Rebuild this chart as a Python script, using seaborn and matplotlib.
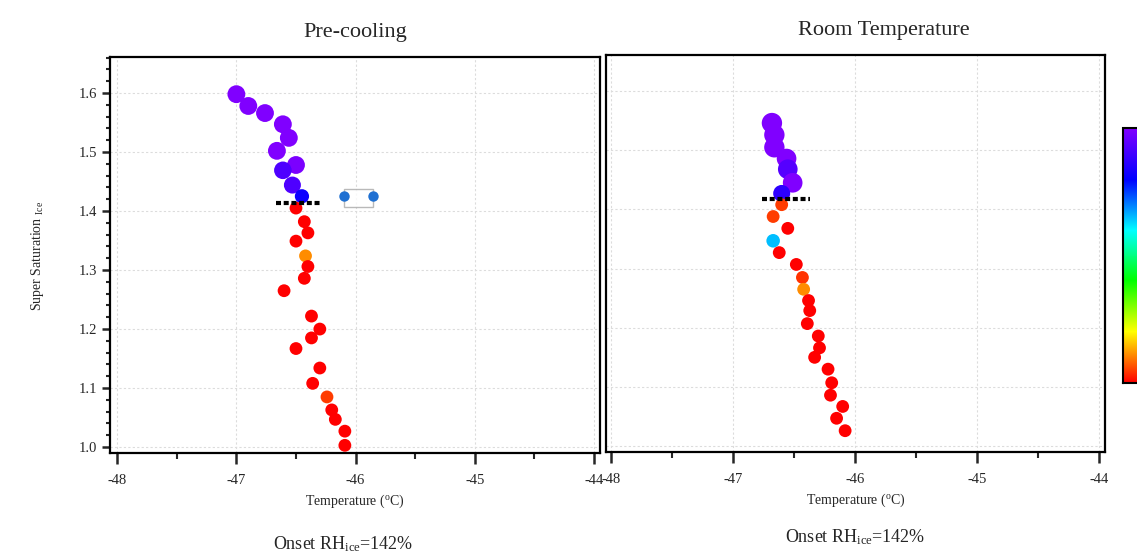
import numpy as np
import pandas as pd
import matplotlib
matplotlib.use("Agg")
import matplotlib.pyplot as plt
import seaborn as sns
from matplotlib.colors import LinearSegmentedColormap
from matplotlib.lines import Line2D
from matplotlib.legend_handler import HandlerLine2D
from matplotlib.ticker import MultipleLocator
import matplotlib.cm as cm

# ---------------- data ----------------
pre_temp = [-47.00, -46.90, -46.76, -46.61, -46.56, -46.66, -46.50, -46.61, -46.53, -46.45,
            -46.50, -46.43, -46.40, -46.50, -46.42, -46.40, -46.43, -46.60, -46.37, -46.30,
            -46.37, -46.50, -46.30, -46.36, -46.24, -46.20, -46.17, -46.09, -46.09]
pre_ss = [1.598, 1.578, 1.566, 1.547, 1.524, 1.502, 1.478, 1.469, 1.444, 1.425,
          1.405, 1.382, 1.363, 1.349, 1.324, 1.306, 1.286, 1.265, 1.222, 1.200,
          1.185, 1.167, 1.134, 1.108, 1.085, 1.063, 1.047, 1.027, 1.003]
pre_color = [1.0, 1.0, 1.0, 1.0, 1.0, 1.0, 0.99, 0.92, 0.92, 0.82,
             0.0, 0.0, 0.0, 0.0, 0.11, 0.0, 0.0, 0.0, 0.0, 0.0,
             0.0, 0.0, 0.0, 0.0, 0.05, 0.0, 0.0, 0.0, 0.0]
pre_size = [165, 165, 165, 165, 165, 165, 165, 160, 150, 105,
            85, 85, 85, 85, 85, 85, 85, 85, 85, 85,
            85, 85, 85, 85, 85, 85, 85, 85, 85]

rt_temp = [-46.68, -46.66, -46.66, -46.56, -46.55, -46.51, -46.60,
           -46.60, -46.67, -46.55, -46.67, -46.62, -46.48, -46.43, -46.42,
           -46.38, -46.37, -46.39, -46.30, -46.29, -46.33, -46.22, -46.19,
           -46.20, -46.10, -46.15, -46.08]
rt_ss = [1.546, 1.526, 1.505, 1.486, 1.468, 1.445, 1.427,
         1.408, 1.388, 1.368, 1.347, 1.327, 1.307, 1.285, 1.265,
         1.246, 1.229, 1.207, 1.186, 1.166, 1.150, 1.130, 1.107,
         1.086, 1.067, 1.047, 1.026]
rt_color = [1.0, 1.0, 1.0, 1.0, 0.93, 1.0, 0.87,
            0.05, 0.05, 0.0, 0.65, 0.0, 0.0, 0.04, 0.11,
            0.0, 0.0, 0.0, 0.0, 0.0, 0.0, 0.0, 0.0,
            0.0, 0.0, 0.0, 0.0]
rt_size = [215, 215, 215, 200, 200, 200, 150,
           85, 85, 85, 95, 85, 85, 85, 85,
           85, 85, 85, 85, 85, 85, 85, 85,
           85, 85, 85, 85]

onset_pre_ss = 1.414
onset_pre_x = [-46.67, -46.29]
onset_rt_ss = 1.417
onset_rt_x = [-46.76, -46.37]

titles = ["Pre-cooling", "Room Temperature"]
onset_text = "Onset RH$_{\\mathrm{ice}}$=142%"
x_ticks = [-48, -47, -46, -45, -44]
y_ticks = [1.0, 1.1, 1.2, 1.3, 1.4, 1.5, 1.6]

# ---------------- style ----------------
sns.set_style("white")
plt.rcParams["font.family"] = ["Liberation Serif", "DejaVu Serif"]
plt.rcParams["mathtext.fontset"] = "custom"
plt.rcParams["mathtext.rm"] = "Liberation Serif"
plt.rcParams["mathtext.it"] = "Liberation Serif:italic"
plt.rcParams["mathtext.bf"] = "Liberation Serif:bold"

cmap = LinearSegmentedColormap.from_list(
    "igor_rainbow",
    [(0.0, "#ff0000"), (0.1, "#ff8000"), (0.2, "#ffff00"), (0.4, "#00ff00"),
     (0.6, "#00ffff"), (0.8, "#0000ff"), (1.0, "#8000ff")])

W, H = 1137, 557
fig = plt.figure(figsize=(W / 100, H / 100), dpi=100)

def frac_box(x0, y0, x1, y1):
    return [x0 / W, 1 - y1 / H, (x1 - x0) / W, (y1 - y0) / H]

ax1 = fig.add_axes(frac_box(110, 57, 600, 453))
ax2 = fig.add_axes(frac_box(606, 55, 1105, 452))

pre_df = pd.DataFrame({"T": pre_temp, "S": pre_ss, "c": pre_color, "s": pre_size})
rt_df = pd.DataFrame({"T": rt_temp, "S": rt_ss, "c": rt_color, "s": rt_size})

for ax, df in ((ax1, pre_df), (ax2, rt_df)):
    sns.scatterplot(data=df, x="T", y="S", hue="c", palette=cmap, hue_norm=(0, 1),
                    size="s", sizes=(50, 250), size_norm=(50, 250),
                    linewidth=0, legend=False, ax=ax, zorder=3)

ax1.plot(onset_pre_x, [onset_pre_ss] * 2, color="black", lw=3,
         linestyle=(0, (1.2, 0.65)), zorder=4)
ax2.plot(onset_rt_x, [onset_rt_ss] * 2, color="black", lw=3,
         linestyle=(0, (1.2, 0.65)), zorder=4)

ax1.set_xlim(-48.06, -43.95)
ax2.set_xlim(-48.04, -43.95)
for ax in (ax1, ax2):
    ax.set_ylim(0.99, 1.661)
    ax.set_xticks(x_ticks)
    ax.set_xticklabels([str(t) for t in x_ticks])
    ax.xaxis.set_minor_locator(MultipleLocator(0.5))
    ax.set_yticks(y_ticks)
    ax.grid(True, which="major", color="#dcdcdc", linestyle=(0, (2, 2)), linewidth=0.8)
    ax.set_axisbelow(True)
    for sp in ax.spines.values():
        sp.set_visible(True)
        sp.set_color("black")
        sp.set_linewidth(1.6)
    ax.tick_params(axis="x", which="major", direction="out", length=8, width=1.8,
                   labelsize=10.5, pad=7, bottom=True, top=False)
    ax.tick_params(axis="x", which="minor", direction="out", length=4.5, width=1.5,
                   bottom=True, top=False)
    ax.set_xlabel("Temperature ($^{\\mathrm{o}}$C)", fontsize=10)
    ax.xaxis.set_label_coords(0.5, -0.1)
    ax.set_ylabel("")

ax1.set_yticklabels([f"{t:.1f}" for t in y_ticks])
ax1.yaxis.set_minor_locator(MultipleLocator(0.02))
ax1.tick_params(axis="y", which="major", direction="out", length=5.5, width=1.8,
                labelsize=10.5, pad=3.5, left=True, right=False)
ax1.tick_params(axis="y", which="minor", direction="out", length=3, width=1.5,
                left=True, right=False)
ax2.tick_params(axis="y", which="both", left=False, right=False, labelleft=False)

fig.text(38 / W, 1 - 256 / H, "Super Saturation $_{\\mathrm{Ice}}$", rotation=90,
         ha="center", va="center", fontsize=10)

fig.text(355 / W, 1 - 33 / H, titles[0], ha="center", va="center", fontsize=16)
fig.text(884 / W, 1 - 31 / H, titles[1], ha="center", va="center", fontsize=16)
fig.text(343 / W, 1 - 544 / H, onset_text, ha="center", va="center", fontsize=13)
fig.text(855 / W, 1 - 537 / H, onset_text, ha="center", va="center", fontsize=13)

# small marker box in pre-cooling panel
handle = Line2D([], [], marker="o", linestyle="none", color="#1f70d2",
                markersize=7.5, markeredgewidth=0)
leg = ax1.legend([handle], [""], numpoints=2,
                 handler_map={handle: HandlerLine2D(numpoints=2, marker_pad=0)},
                 loc="center", bbox_to_anchor=(0.507, 0.644), prop={"size": 10},
                 borderpad=0, handletextpad=0, handlelength=2.1, handleheight=1.7,
                 borderaxespad=0, frameon=True, fancybox=False)
leg.get_frame().set_edgecolor("#a8a8a8")
leg.get_frame().set_linewidth(1.0)

# colorbar (cut at the right edge)
cax = fig.add_axes(frac_box(1123, 128, 1150, 383))
sm = cm.ScalarMappable(norm=plt.Normalize(0, 1), cmap=cmap)
cb = fig.colorbar(sm, cax=cax)
cb.set_ticks([])
cb.outline.set_linewidth(1.5)
cb.outline.set_edgecolor("black")

fig.savefig("out.png", dpi=100)
